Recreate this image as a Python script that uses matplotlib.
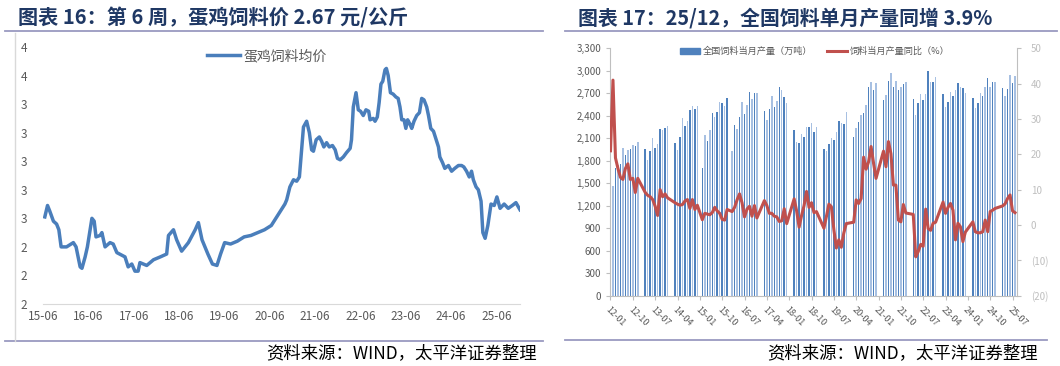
import matplotlib
matplotlib.use("Agg")
import matplotlib.pyplot as plt
import matplotlib.lines as mlines
import matplotlib.patches as mpatches
import numpy as np

plt.rcParams['font.family'] = ['Noto Sans CJK SC', 'DejaVu Sans']

# ---------------- left chart data (egg-layer feed price, yuan/kg) ----------------
price_t = [2015.45, 2015.51, 2015.56, 2015.64, 2015.71, 2015.76, 2015.81, 2015.93,
           2016.08, 2016.14, 2016.23, 2016.27, 2016.34, 2016.39, 2016.45, 2016.49,
           2016.54, 2016.58, 2016.67, 2016.71, 2016.78, 2016.89, 2016.96, 2017.04,
           2017.22, 2017.29, 2017.37, 2017.44, 2017.51, 2017.55, 2017.70, 2017.85,
           2018.00, 2018.14, 2018.18, 2018.29, 2018.36, 2018.47, 2018.62, 2018.77,
           2018.84, 2018.92, 2019.05, 2019.15, 2019.25, 2019.33, 2019.42, 2019.55,
           2019.70, 2019.85, 2020.00, 2020.15, 2020.30, 2020.45, 2020.55, 2020.65,
           2020.75, 2020.79, 2020.86, 2020.94, 2021.01, 2021.07, 2021.12, 2021.16,
           2021.23, 2021.29, 2021.34, 2021.38, 2021.44, 2021.51, 2021.56, 2021.61,
           2021.67, 2021.73, 2021.80, 2021.86, 2021.91, 2021.97, 2022.04, 2022.11,
           2022.19, 2022.22, 2022.26, 2022.32, 2022.37, 2022.42, 2022.48, 2022.54,
           2022.60, 2022.63, 2022.70, 2022.74, 2022.79, 2022.83, 2022.87, 2022.91,
           2022.96, 2022.99, 2023.03, 2023.08, 2023.14, 2023.20, 2023.25, 2023.29,
           2023.33, 2023.38, 2023.42, 2023.46, 2023.51, 2023.55, 2023.60, 2023.66,
           2023.72, 2023.77, 2023.82, 2023.88, 2023.92, 2023.97, 2024.03, 2024.09,
           2024.14, 2024.17, 2024.23, 2024.28, 2024.36, 2024.43, 2024.50, 2024.58,
           2024.65, 2024.70, 2024.76, 2024.82, 2024.87, 2024.91, 2024.97, 2025.02,
           2025.08, 2025.12, 2025.17, 2025.23, 2025.30, 2025.37, 2025.43, 2025.50,
           2025.59, 2025.68, 2025.77, 2025.85, 2025.94]
price_v = [2.61, 2.69, 2.65, 2.58, 2.56, 2.52, 2.40, 2.40,
           2.43, 2.40, 2.26, 2.25, 2.33, 2.40, 2.52, 2.60,
           2.58, 2.47, 2.48, 2.50, 2.40, 2.43, 2.42, 2.36,
           2.33, 2.26, 2.28, 2.23, 2.23, 2.29, 2.27, 2.31,
           2.33, 2.35, 2.48, 2.52, 2.45, 2.37, 2.43, 2.52,
           2.57, 2.45, 2.35, 2.28, 2.27, 2.35, 2.43, 2.42,
           2.44, 2.47, 2.48, 2.50, 2.52, 2.55, 2.60, 2.65,
           2.70, 2.73, 2.82, 2.87, 2.86, 2.89, 3.08, 3.24,
           3.28, 3.20, 3.08, 3.07, 3.15, 3.17, 3.14, 3.10,
           3.13, 3.10, 3.11, 3.08, 3.02, 3.01, 3.03, 3.06,
           3.09, 3.15, 3.38, 3.48, 3.36, 3.35, 3.32, 3.36,
           3.35, 3.29, 3.30, 3.28, 3.31, 3.41, 3.54, 3.56,
           3.64, 3.65, 3.60, 3.48, 3.47, 3.45, 3.44, 3.38,
           3.29, 3.29, 3.23, 3.29, 3.26, 3.23, 3.28, 3.32,
           3.34, 3.44, 3.43, 3.38, 3.32, 3.23, 3.21, 3.15,
           3.10, 3.03, 2.99, 2.95, 2.97, 2.93, 2.95, 2.97,
           2.97, 2.96, 2.93, 2.89, 2.93, 2.87, 2.82, 2.80,
           2.72, 2.50, 2.46, 2.55, 2.70, 2.69, 2.75, 2.67,
           2.70, 2.67, 2.69, 2.71, 2.66]
left_xlabels = ['15-06', '16-06', '17-06', '18-06', '19-06', '20-06',
                '21-06', '22-06', '23-06', '24-06', '25-06']
left_yticks = [2.0, 2.2, 2.4, 2.6, 2.8, 3.0, 3.2, 3.4, 3.6, 3.8]

# ---------------- right chart data (national feed output) ----------------
# (year, first month, last month) covered by the monthly series
period_spans = [(2012, 1, 12), (2013, 3, 12), (2014, 3, 12), (2015, 2, 12),
                (2016, 2, 12), (2017, 3, 12), (2018, 3, 12), (2019, 3, 12),
                (2020, 3, 12), (2021, 3, 12), (2022, 3, 12), (2023, 3, 12),
                (2024, 3, 12), (2025, 3, 8)]
feed_output = [1385, 1460, 1700, 1750, 1760, 1970, 1880, 1940, 1960, 2010, 1995, 2045,
               1955, 1810, 1930, 2110, 1970, 2025, 2220, 2215, 2240, 2270,
               2040, 1940, 2115, 2370, 2265, 2330, 2475, 2525, 2490, 2530,
               1710, 2150, 2060, 2210, 2435, 2385, 2450, 2585, 2570, 2535, 2640,
               1925, 2275, 2230, 2385, 2580, 2430, 2540, 2715, 2630, 2710, 2700,
               2460, 2340, 2490, 2660, 2520, 2600, 2790, 2750, 2650, 2570,
               2210, 2045, 2040, 2155, 2115, 2250, 2255, 2300, 2190, 2250,
               1960, 1930, 2030, 2100, 2080, 2190, 2330, 2300, 2290, 2450,
               2120, 2240, 2320, 2410, 2440, 2540, 2780, 2845, 2740, 2835,
               2610, 2675, 2870, 2970, 2780, 2870, 2745, 2790, 2830, 2850,
               2620, 2410, 2570, 2690, 2615, 2690, 2995, 2855, 2855, 2915,
               2685, 2520, 2590, 2715, 2670, 2750, 2835, 2790, 2775, 2705,
               2640, 2500, 2570, 2710, 2660, 2790, 2910, 2790, 2845, 2845,
               2775, 2665, 2755, 2940, 2835, 2925]
feed_yoy = [21, 41, 19, 16, 13.5, 12.9, 16, 17.3, 12.9, 13.2, 9.2, 13.2,
            9.2, 8.4, 8, 7.2, 5.3, 2.7, 10, 8, 8.8, 7.7,
            6.3, 5.9, 5.6, 5.8, 6.8, 7.2, 4.7, 7.2, 4.4, 5.6,
            1.5, 3.3, 3.1, 2.9, 3.5, 5.0, 4.0, 3.3, 1.6, 1.4, 4.4,
            3.8, 5, 7.1, 8.8, 6.3, 2.3, 4.5, 5.3, 2.5, 5.5, 2,
            6.9, 5.5, 3.3, 3.3, 2.5, 2.3, 1.0, 1.2, 4.6, 0.4,
            7.4, 4.0, -0.6, 2.7, 5.5, 9.5, 5.0, 6.3, 3.5, 3.8,
            -0.9, 2.4, 5.9, 5.2, -1.3, -6.5, -4.2, -6.3, -2.3, 0.4,
            0.8, 7.1, 6.1, 7.5, 19.2, 15.8, 17.9, 22.2, 17.5, 13.2,
            20.9, 16.5, 23.6, 20.2, 11.3, 11.3, 1.4, 0.9, 5.8, 3.4,
            3, -9, -7.5, -5.5, -6, 4.5, -1, -1.5, 0.5, 0.8,
            6.5, 3.3, 5, 6.1, 4.2, -4.2, 0.5, -0.5, -4.7, -2,
            0.9, -1.9, -2.2, -2.2, -1.9, 1.4, -1.9, 3.8, 4.2, 4.7,
            5.4, 6, 7.5, 8.5, 4, 3.5]
right_xlabels = ['12-01', '12-10', '13-07', '14-04', '15-01', '15-10', '16-07',
                 '17-04', '18-01', '18-10', '19-07', '20-04', '21-01', '21-10',
                 '22-07', '23-04', '24-01', '24-10', '25-07']
left_axis_ticks = [0, 300, 600, 900, 1200, 1500, 1800, 2100, 2400, 2700, 3000, 3300]
right_axis_ticks = [-20, -10, 0, 10, 20, 30, 40, 50]

# ---------------- figure ----------------
W, H = 1060, 366
fig = plt.figure(figsize=(W / 100, H / 100), dpi=100)

def px_axes(x0, y0, x1, y1):
    return fig.add_axes([x0 / W, 1 - y1 / H, (x1 - x0) / W, (y1 - y0) / H])

title_color = '#1F3864'
frame_color = '#9A9AC0'
grey = '#595959'

# panel decorations
fig.add_artist(mlines.Line2D([5 / W, 543 / W], [1 - 31 / H] * 2, color=frame_color, lw=1.3))
fig.add_artist(mlines.Line2D([565 / W, 1057 / W], [1 - 31 / H] * 2, color=frame_color, lw=1.3))
fig.add_artist(mlines.Line2D([5 / W, 543 / W], [1 - 341 / H] * 2, color=frame_color, lw=1.3))
fig.add_artist(mlines.Line2D([565 / W, 1047 / W], [1 - 340 / H] * 2, color=frame_color, lw=1.3))
fig.add_artist(mlines.Line2D([15 / W] * 2, [1 - 33 / H, 1 - 341 / H], color='#D9D9D9', lw=1))

fig.text(18 / W, 1 - 18 / H, '图表 16：第 6 周，蛋鸡饲料价 2.67 元/公斤', fontsize=14.5,
         fontweight='bold', color=title_color, va='center', ha='left')
fig.text(578 / W, 1 - 18 / H, '图表 17：25/12，全国饲料单月产量同增 3.9%', fontsize=14.3,
         fontweight='bold', color=title_color, va='center', ha='left')
fig.text(537 / W, 1 - 353 / H, '资料来源：WIND，太平洋证券整理', fontsize=12.5,
         color='black', va='center', ha='right', style='italic')
fig.text(1038 / W, 1 - 353 / H, '资料来源：WIND，太平洋证券整理', fontsize=12.5,
         color='black', va='center', ha='right', style='italic')

# ---------------- left chart ----------------
x_start = 2015 + 5 / 12
px_per_year = 45.3
axL = px_axes(43, 47, 520, 304)
axL.plot(price_t, price_v, color='#4A7EBB', lw=2.5, solid_joinstyle='round',
         label='蛋鸡饲料均价')
axL.set_xlim(x_start - 0.3 / px_per_year, x_start + (520 - 43.3) / px_per_year)
axL.set_ylim(2.0, 3.8)
axL.set_yticks(left_yticks)
axL.set_yticklabels(['%.0f' % v for v in left_yticks])
axL.set_xticks([x_start + k for k in range(len(left_xlabels))])
axL.set_xticklabels(left_xlabels)
for s in ['top', 'right', 'left']:
    axL.spines[s].set_visible(False)
axL.spines['bottom'].set_color('#D9D9D9')
axL.tick_params(axis='both', length=0, colors=grey, labelsize=8.5)
axL.tick_params(axis='y', pad=11.5)
axL.tick_params(axis='x', pad=4)
axL.legend(loc='upper left', bbox_to_anchor=((194 - 43) / 477, 1.04), frameon=False,
           fontsize=10, handlelength=2.4, handletextpad=0.3, labelcolor=grey)

# ---------------- right chart ----------------
months = []
for (yr, m0, m1) in period_spans:
    for m in range(m0, m1 + 1):
        months.append((yr - 2012) * 12 + (m - 1))
months = np.array(months)

axR = px_axes(610, 48.3, 1017, 295.7)
bar_colors = ['#4F81BD' if k % 2 == 0 else '#A7C0E2' for k in range(len(months))]
axR.bar(months, feed_output, width=0.6, color=bar_colors, linewidth=0)
axR.set_xlim(-0.2, 163.8)
axR.set_ylim(0, 3300)
axR.set_yticks(left_axis_ticks)
axR.set_yticklabels(['{:,}'.format(v) for v in left_axis_ticks])
axR.set_xticks(np.arange(0, 9 * len(right_xlabels), 9))
axR.set_xticklabels(right_xlabels, rotation=-45, ha='left', rotation_mode='anchor')
for s in ['top', 'right']:
    axR.spines[s].set_visible(False)
for s in ['left', 'bottom']:
    axR.spines[s].set_color('#BFBFBF')
axR.tick_params(axis='both', colors='#BFBFBF', labelcolor=grey, labelsize=7,
                length=3, direction='out')
axR.tick_params(axis='x', pad=4, labelsize=6.6)

ax2 = axR.twinx()
line, = ax2.plot(months, feed_yoy, color='#C0504D', lw=2.2, solid_joinstyle='round',
                 label='饲料当月产量同比（%）')
ax2.set_ylim(-20, 50)
ax2.set_yticks(right_axis_ticks)
ax2.set_yticklabels([('(%d)' % -v) if v < 0 else '%d' % v for v in right_axis_ticks])
for t, v in zip(ax2.get_yticklabels(), right_axis_ticks):
    t.set_color('#FF4D4D' if v < 0 else grey)
for s in ['top', 'left', 'bottom']:
    ax2.spines[s].set_visible(False)
ax2.spines['right'].set_color('#BFBFBF')
ax2.tick_params(axis='y', colors='#BFBFBF', labelsize=7, length=3, direction='out', pad=7)

leg_bar = mpatches.Patch(color='#4F81BD', label='全国饲料当月产量（万吨）')
ax2.legend(handles=[leg_bar, line], loc='upper left',
           bbox_to_anchor=((672 - 610) / 407, 1.04),
           ncol=2, frameon=False, fontsize=6.6, handlelength=2.2, handleheight=0.55,
           handletextpad=0.25, columnspacing=1.6, labelcolor=grey)

fig.savefig('out.png', dpi=100)
